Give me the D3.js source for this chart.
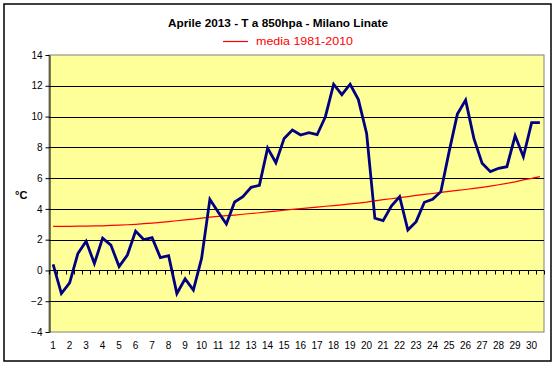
<!DOCTYPE html>
<html>
<head>
<meta charset="utf-8">
<script src="https://cdn.jsdelivr.net/npm/d3@7"></script>
<style>
  html, body { margin: 0; padding: 0; background: #fff; }
  svg { display: block; }
  text { font-family: "Liberation Sans", Arial, sans-serif; }
</style>
</head>
<body>
<svg id="chart" width="556" height="366"></svg>
<script>
// ---- data ----
const title = "Aprile 2013 - T a 850hpa - Milano Linate";
const legendLabel = "media 1981-2010";
const yLabel = "°C";
const dayLabels = ["1","2","3","4","5","6","7","8","9","10","11","12","13","14","15",
  "16","17","18","19","20","21","22","23","24","25","26","27","28","29","30"];
const yTicks = [-4, -2, 0, 2, 4, 6, 8, 10, 12, 14];
// two readings per day (00 and 12 UTC)
const temp2013 = [
  0.4, -1.5, -0.8, 1.1, 1.9, 0.45, 2.1, 1.65, 0.25, 1.0,
  2.56, 2.0, 2.13, 0.83, 0.96, -1.5, -0.55, -1.27, 0.8, 4.62,
  3.8, 3.02, 4.45, 4.8, 5.4, 5.53, 7.95, 7.0, 8.58, 9.12,
  8.8, 8.95, 8.82, 9.99, 12.1, 11.42, 12.1, 11.1, 8.9, 3.39,
  3.24, 4.19, 4.8, 2.63, 3.17, 4.43, 4.62, 5.12, 7.72, 10.16,
  11.07, 8.58, 6.96, 6.42, 6.64, 6.74, 8.75, 7.39, 9.6, 9.6
];
const media19812010 = [
  2.87, 2.87, 2.87, 2.88, 2.88, 2.89, 2.90, 2.93, 2.95, 2.97,
  3.00, 3.04, 3.08, 3.12, 3.17, 3.23, 3.28, 3.34, 3.40, 3.47,
  3.51, 3.56, 3.60, 3.65, 3.70, 3.75, 3.80, 3.86, 3.91, 3.97,
  4.02, 4.07, 4.12, 4.17, 4.21, 4.26, 4.32, 4.38, 4.44, 4.52,
  4.60, 4.66, 4.73, 4.80, 4.88, 4.94, 5.00, 5.07, 5.14, 5.20,
  5.26, 5.33, 5.40, 5.48, 5.57, 5.66, 5.76, 5.88, 5.98, 6.10
];

// ---- layout ----
const svg = d3.select("#chart");
const plot = { left: 49, right: 544, top: 55, bottom: 332 };

// categories: each day has two slots; label only on the first
const categories = dayLabels.flatMap(d => [d + "a", d + "b"]);

const x = d3.scaleBand().domain(categories).range([plot.left, plot.right]).padding(0);
const y = d3.scaleLinear().domain([-4, 14]).range([plot.bottom, plot.top]);
const cx = (i) => x(categories[i]) + x.bandwidth() / 2;

// outer chart border
svg.append("rect")
  .attr("x", 4).attr("y", 4).attr("width", 547).attr("height", 357)
  .attr("fill", "#fff").attr("stroke", "#000").attr("stroke-width", 1.5);

// plot area
svg.append("rect")
  .attr("x", plot.left).attr("y", plot.top)
  .attr("width", plot.right - plot.left).attr("height", plot.bottom - plot.top)
  .attr("fill", "#FFFF99").attr("stroke", "#808080").attr("stroke-width", 1);

// gridlines
svg.append("g").selectAll("line")
  .data(yTicks.filter(v => v > -4 && v < 14))
  .join("line")
  .attr("x1", plot.left).attr("x2", plot.right)
  .attr("y1", d => Math.round(y(d)) + 0.5).attr("y2", d => Math.round(y(d)) + 0.5)
  .attr("stroke", "#000").attr("stroke-width", 1);

// y axis
const yAxis = svg.append("g")
  .attr("transform", `translate(${plot.left + 0.5},0)`)
  .call(d3.axisLeft(y).tickValues(yTicks).tickSize(4).tickSizeOuter(0).tickPadding(3));
yAxis.select(".domain").attr("stroke", "#000");
yAxis.selectAll(".tick line").attr("stroke", "#000");
yAxis.selectAll("text").attr("font-size", "10px").attr("fill", "#000")
  .attr("font-family", "Liberation Sans, Arial, sans-serif");

// category ticks on the zero line
const zeroY = Math.round(y(0)) + 0.5;
const boundaries = categories.map(c => x(c)).concat([plot.right]);
svg.append("g").selectAll("line")
  .data(boundaries)
  .join("line")
  .attr("x1", d => Math.round(d) + 0.5).attr("x2", d => Math.round(d) + 0.5)
  .attr("y1", zeroY).attr("y2", zeroY + 4)
  .attr("stroke", "#000").attr("stroke-width", 1);

// category labels at bottom
const xAxis = svg.append("g")
  .attr("transform", `translate(0,${plot.bottom})`)
  .call(d3.axisBottom(x)
    .tickValues(categories.filter(c => c.endsWith("a")))
    .tickFormat(c => c.slice(0, -1))
    .tickSize(0).tickPadding(10));
xAxis.select(".domain").remove();
xAxis.selectAll("text").attr("font-size", "10px").attr("fill", "#000")
  .attr("font-family", "Liberation Sans, Arial, sans-serif");

// series lines
const line = d3.line().x((d, i) => cx(i)).y(d => y(d));
svg.append("path").datum(media19812010)
  .attr("d", line).attr("fill", "none").attr("stroke", "#FF0000").attr("stroke-width", 1.2);
svg.append("path").datum(temp2013)
  .attr("d", line).attr("fill", "none").attr("stroke", "#000080")
  .attr("stroke-width", 2.8).attr("stroke-linejoin", "miter");

// title
svg.append("text")
  .attr("x", 278).attr("y", 27).attr("text-anchor", "middle")
  .attr("font-size", "11.5px").attr("font-weight", "bold").attr("fill", "#000")
  .attr("textLength", 220).attr("lengthAdjust", "spacingAndGlyphs")
  .text(title);

// legend
svg.append("line")
  .attr("x1", 223).attr("x2", 248).attr("y1", 41.5).attr("y2", 41.5)
  .attr("stroke", "#FF0000").attr("stroke-width", 1.2);
svg.append("text")
  .attr("x", 256).attr("y", 45).attr("font-size", "11px").attr("fill", "#FF0000")
  .attr("textLength", 97).attr("lengthAdjust", "spacingAndGlyphs")
  .text(legendLabel);

// y axis title
svg.append("text")
  .attr("x", 15).attr("y", 199).attr("font-size", "11px").attr("font-weight", "bold")
  .attr("fill", "#000").text(yLabel);
</script>
</body>
</html>
